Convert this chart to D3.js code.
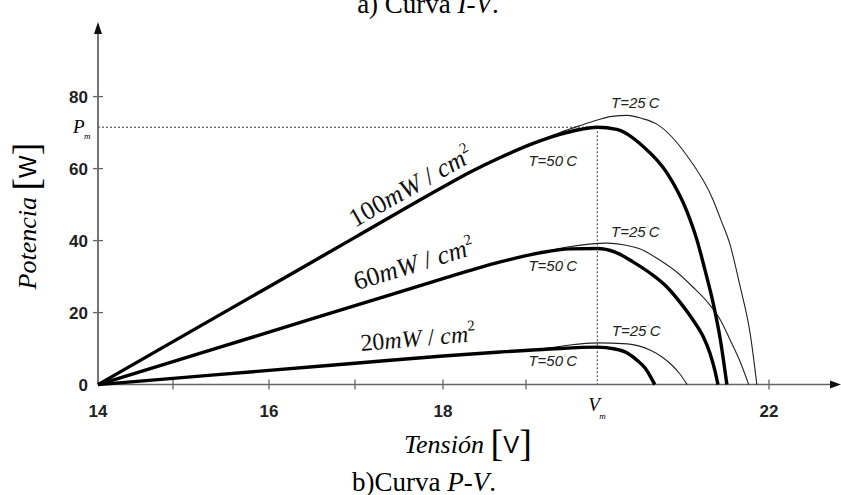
<!DOCTYPE html>
<html>
<head>
<meta charset="utf-8">
<script src="https://cdn.jsdelivr.net/npm/d3@7"></script>
<style>
  body { margin: 0; background: #fff; }
  svg { display: block; }
</style>
</head>
<body>
<svg id="chart" width="841" height="495"></svg>
<script>
// ejes
const xKnots = [14, 15, 16, 17, 18, 19, 22];
const xTicks = [15, 16, 17, 18, 19, 22];
const xTickLabels = [14, 16, 18, 22];
const yTicks = [20, 40, 60, 80];
const yTickLabels = [0, 20, 40, 60, 80];
const Vm = 19.88;
const Pm = 71.5;

// curvas P-V  [V, P]
const p100_50 = [[14,0],[15,11.94],[16,27.2],[17,40.9],[18,54.9],[18.33,59.06],[18.69,63.08],[19.09,67.0],[19.42,69.5],[19.67,70.86],[19.88,71.47],[20.12,70.9],[20.44,66.3],[20.74,58.8],[20.99,47.9],[21.11,40.2],[21.21,31.8],[21.31,22.7],[21.4,12.4],[21.48,0]];
const p100_25 = [[14,0],[15,11.94],[16,27.2],[17,40.9],[18,54.9],[18.33,59.06],[18.69,63.08],[19.09,67.0],[19.42,70.03],[19.67,71.97],[19.88,73.5],[20.06,74.5],[20.25,74.78],[20.43,73.94],[20.62,72.28],[20.99,63.5],[21.31,51.3],[21.4,46.1],[21.52,38.8],[21.64,27.6],[21.77,13.8],[21.85,0]];
const p60_50 = [[14,0],[15,6.4],[16,14.58],[17,21.92],[18,29.42],[18.69,34.1],[19.17,36.6],[19.54,37.7],[19.88,37.8],[20.1,36.8],[20.32,34.1],[20.53,31.0],[20.74,27.1],[20.9,22.9],[21.06,18.0],[21.19,13.2],[21.27,8.8],[21.33,4.1],[21.37,0]];
const p60_25 = [[14,0],[15,6.4],[16,14.58],[17,21.92],[18,29.42],[18.69,34.1],[19.17,36.6],[19.51,38.2],[20.0,39.3],[20.22,38.78],[20.41,37.67],[20.65,34.61],[20.86,31.28],[21.06,27.11],[21.24,22.94],[21.4,17.94],[21.52,12.39],[21.64,6.56],[21.75,0]];
const p20_50 = [[14,0],[15,1.73],[16,3.94],[17,5.93],[18,7.96],[18.69,9.06],[19.3,9.89],[19.88,10.4],[20.1,9.9],[20.25,8.8],[20.37,6.8],[20.47,4.6],[20.54,2.1],[20.59,0]];
const p20_25 = [[14,0],[15,1.73],[16,3.94],[17,5.93],[18,7.96],[18.69,9.06],[19.3,10.2],[19.54,11.0],[19.88,11.6],[20.25,11.3],[20.53,9.6],[20.68,7.67],[20.8,5.44],[20.9,2.94],[20.99,0]];

const series = [
  { data: p100_25, thick: false }, { data: p60_25, thick: false }, { data: p20_25, thick: false },
  { data: p100_50, thick: true },  { data: p60_50, thick: true },  { data: p20_50, thick: true },
];

// etiquetas de irradiancia y temperatura (posición en unidades de datos)
const irrLabels = [
  { num: '100', v: 17.0, p: 43.6, ang: -29.5, size: 26 },
  { num: '60',  v: 17.02, p: 26.2, ang: -17, size: 26 },
  { num: '20',  v: 17.07, p: 9.3,  ang: -5, size: 24 },
];
const tempLabels = [
  { t: '25', v: 20.05, p: 76.8 }, { t: '50', v: 19.03, p: 60.7 },
  { t: '25', v: 20.05, p: 41.0 }, { t: '50', v: 19.03, p: 31.6 },
  { t: '25', v: 20.06, p: 13.5 }, { t: '50', v: 19.03, p: 5.2 },
];

const svg = d3.select('#chart');
const x = d3.scaleLinear().domain(xKnots).range([98, 173, 269, 355, 443, 526, 769]);
const y = d3.scaleLinear().domain([0, 80]).range([384.6, 96.6]);

const serif = 'Liberation Serif, Times New Roman, serif';
const sans = 'Liberation Sans, Arial, sans-serif';

// títulos
svg.append('text').attr('x', 428).attr('y', 13).attr('text-anchor', 'middle')
  .attr('font-family', serif).attr('font-size', 27)
  .call(t => { t.append('tspan').text('a) Curva '); t.append('tspan').attr('font-style', 'italic').text('I-V'); t.append('tspan').text('.'); });
svg.append('text').attr('x', 424).attr('y', 491).attr('text-anchor', 'middle')
  .attr('font-family', serif).attr('font-size', 27)
  .call(t => { t.append('tspan').text('b)Curva '); t.append('tspan').attr('font-style', 'italic').text('P-V'); t.append('tspan').text('.'); });

// líneas punteadas Pm / Vm
svg.append('line').attr('x1', x(14)).attr('x2', x(Vm)).attr('y1', y(Pm)).attr('y2', y(Pm))
  .attr('stroke', '#333').attr('stroke-width', 1).attr('stroke-dasharray', '2,2');
svg.append('line').attr('x1', x(Vm)).attr('x2', x(Vm)).attr('y1', y(Pm)).attr('y2', y(0))
  .attr('stroke', '#333').attr('stroke-width', 1).attr('stroke-dasharray', '2,2');

// ejes
const axisColor = '#666';
svg.append('line').attr('x1', x(14)).attr('x2', 832).attr('y1', y(0)).attr('y2', y(0))
  .attr('stroke', axisColor).attr('stroke-width', 1.5);
svg.append('path').attr('d', `M841,${y(0)} L830,${y(0) - 4} L830,${y(0) + 4} Z`).attr('fill', '#111');
svg.append('line').attr('x1', x(14)).attr('x2', x(14)).attr('y1', y(0)).attr('y2', 32)
  .attr('stroke', axisColor).attr('stroke-width', 1.8);
svg.append('path').attr('d', `M${x(14)},22 L${x(14) - 4},34 L${x(14) + 4},34 Z`).attr('fill', '#111');

svg.selectAll('.xtick').data(xTicks).join('line').attr('class', 'xtick')
  .attr('x1', d => x(d)).attr('x2', d => x(d)).attr('y1', y(0) - 5).attr('y2', y(0) + 5)
  .attr('stroke', axisColor).attr('stroke-width', 1.3);
svg.selectAll('.ytick').data(yTicks).join('line').attr('class', 'ytick')
  .attr('x1', x(14) - 5).attr('x2', x(14) + 5).attr('y1', d => y(d)).attr('y2', d => y(d))
  .attr('stroke', axisColor).attr('stroke-width', 1.3);

svg.selectAll('.xlab').data(xTickLabels).join('text').attr('class', 'xlab')
  .attr('x', d => x(d)).attr('y', 417).attr('text-anchor', 'middle')
  .attr('font-family', sans).attr('font-weight', 'bold').attr('font-size', 17).attr('fill', '#222')
  .text(d => d);
svg.selectAll('.ylab').data(yTickLabels).join('text').attr('class', 'ylab')
  .attr('x', 88).attr('y', d => y(d) + 6).attr('text-anchor', 'end')
  .attr('font-family', sans).attr('font-weight', 'bold').attr('font-size', 17).attr('fill', '#222')
  .text(d => d);

// Pm y Vm
svg.append('text').attr('x', 73).attr('y', y(Pm) + 6).attr('font-family', serif).attr('font-style', 'italic').attr('font-size', 19).text('P');
svg.append('text').attr('x', 84).attr('y', y(Pm) + 12).attr('font-family', serif).attr('font-style', 'italic').attr('font-size', 9).text('m');
svg.append('text').attr('x', x(Vm) - 9).attr('y', 411).attr('font-family', serif).attr('font-style', 'italic').attr('font-size', 19).text('V');
svg.append('text').attr('x', x(Vm) + 2).attr('y', 419).attr('font-family', serif).attr('font-style', 'italic').attr('font-size', 9).text('m');

// títulos de ejes
svg.append('text').attr('x', 404).attr('y', 453).attr('font-family', serif).attr('font-size', 26)
  .call(t => {
    t.append('tspan').attr('font-style', 'italic').text('Tensión ');
    t.append('tspan').attr('font-size', 38).attr('dy', 3).text('[');
    t.append('tspan').attr('font-family', sans).attr('font-size', 24).attr('dy', -3).text('V');
    t.append('tspan').attr('font-size', 38).attr('dy', 3).text(']');
  });
svg.append('text').attr('transform', 'translate(36,216) rotate(-90)').attr('text-anchor', 'middle')
  .attr('font-family', serif).attr('font-size', 26)
  .call(t => {
    t.append('tspan').attr('font-style', 'italic').text('Potencia ');
    t.append('tspan').attr('font-size', 38).attr('dy', 3).text('[');
    t.append('tspan').attr('font-family', sans).attr('font-size', 24).attr('dy', -3).text('W');
    t.append('tspan').attr('font-size', 38).attr('dy', 3).text(']');
  });

// curvas
const line = d3.line().x(d => x(d[0])).y(d => y(d[1])).curve(d3.curveMonotoneX);
svg.append('g').selectAll('path').data(series).join('path')
  .attr('d', d => line(d.data))
  .attr('fill', 'none')
  .attr('stroke', d => d.thick ? '#000' : '#222')
  .attr('stroke-width', d => d.thick ? 3.4 : 1.1)
  .attr('stroke-linejoin', 'round');

// etiquetas de irradiancia
irrLabels.forEach(l => {
  const t = svg.append('text')
    .attr('transform', `translate(${x(l.v)},${y(l.p)}) rotate(${l.ang})`)
    .attr('font-family', serif).attr('font-size', l.size).attr('fill', '#111');
  t.append('tspan').text(l.num);
  t.append('tspan').attr('font-style', 'italic').text('mW');
  t.append('tspan').text(' / ');
  t.append('tspan').attr('font-style', 'italic').text('cm');
  t.append('tspan').attr('font-size', 15).attr('dy', -11).text('2');
});

// etiquetas de temperatura
tempLabels.forEach(l => {
  const t = svg.append('text').attr('x', x(l.v)).attr('y', y(l.p))
    .attr('font-family', sans).attr('font-style', 'italic').attr('font-size', 15).attr('fill', '#222');
  t.append('tspan').text('T=' + l.t);
  t.append('tspan').attr('font-size', 8).attr('dy', -6).attr('fill', '#aaa').text('°');
  t.append('tspan').attr('dy', 6).text('C');
});
</script>
</body>
</html>
